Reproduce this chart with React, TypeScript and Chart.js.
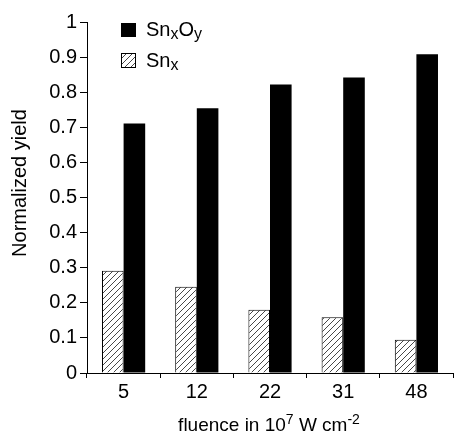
import { useEffect, useRef } from "react";
import { Chart, registerables } from "chart.js";

Chart.register(...registerables);

// Fluence categories (10^7 W cm^-2) and normalized yields
const fluence = ["5", "12", "22", "31", "48"];
const snxOyYield = [0.711, 0.754, 0.822, 0.842, 0.908];
const snxYield = [0.291, 0.246, 0.18, 0.159, 0.095];
const yTickValues = [0, 0.1, 0.2, 0.3, 0.4, 0.5, 0.6, 0.7, 0.8, 0.9, 1];

const FONT = "Arial, 'Liberation Sans', Helvetica, sans-serif";

type Seg = { t: string; sub?: boolean; sup?: boolean };

function makeHatch(): CanvasPattern | string {
  const s = 6;
  const c = document.createElement("canvas");
  c.width = s;
  c.height = s;
  const g = c.getContext("2d");
  if (!g) return "#fff";
  g.fillStyle = "#fff";
  g.fillRect(0, 0, s, s);
  g.strokeStyle = "#333";
  g.lineWidth = 0.9;
  g.beginPath();
  g.moveTo(0, s);
  g.lineTo(s, 0);
  g.moveTo(-1, 1);
  g.lineTo(1, -1);
  g.moveTo(s - 1, s + 1);
  g.lineTo(s + 1, s - 1);
  g.stroke();
  return g.createPattern(c, "repeat") || "#fff";
}

function segFont(seg: Seg, size: number, small: number) {
  return `${seg.sub || seg.sup ? small : size}px ${FONT}`;
}

function measureSegs(ctx: CanvasRenderingContext2D, segs: Seg[], size: number, small: number) {
  let w = 0;
  for (const s of segs) {
    ctx.font = segFont(s, size, small);
    w += ctx.measureText(s.t).width;
  }
  return w;
}

function drawSegs(
  ctx: CanvasRenderingContext2D,
  segs: Seg[],
  x: number,
  y: number,
  size: number,
  small: number,
  align: "left" | "center" = "left"
) {
  let cx = align === "center" ? x - measureSegs(ctx, segs, size, small) / 2 : x;
  ctx.textAlign = "left";
  ctx.textBaseline = "alphabetic";
  for (const s of segs) {
    ctx.font = segFont(s, size, small);
    const dy = s.sub ? 3 : s.sup ? -7 : 0;
    ctx.fillText(s.t, cx, y + dy);
    cx += ctx.measureText(s.t).width;
  }
}

export default function App() {
  const canvasRef = useRef<HTMLCanvasElement | null>(null);

  useEffect(() => {
    document.body.style.margin = "0";
    const canvas = canvasRef.current;
    if (!canvas) return;
    const hatch = makeHatch();

    const annotations = {
      id: "annotations",
      afterDraw(chart: Chart) {
        const ctx = chart.ctx;
        ctx.save();
        ctx.fillStyle = "#000";

        // legend
        ctx.fillRect(121, 23, 15, 14);
        drawSegs(ctx, [{ t: "Sn" }, { t: "x", sub: true }, { t: "O" }, { t: "y", sub: true }], 146, 36, 20, 16);
        ctx.fillStyle = hatch as any;
        ctx.fillRect(121.5, 53.5, 14, 14);
        ctx.strokeStyle = "#000";
        ctx.lineWidth = 1;
        ctx.strokeRect(121.5, 53.5, 14, 14);
        ctx.fillStyle = "#000";
        drawSegs(ctx, [{ t: "Sn" }, { t: "x", sub: true }], 146, 67, 20, 16);

        // x-axis title
        const area = chart.chartArea;
        drawSegs(
          ctx,
          [{ t: "fluence in 10" }, { t: "7", sup: true }, { t: " W cm" }, { t: "-2", sup: true }],
          (area.left + area.right) / 2 - 1,
          431,
          19,
          14,
          "center"
        );

        // y-axis title
        ctx.translate(26, 183);
        ctx.rotate(-Math.PI / 2);
        ctx.font = `20px ${FONT}`;
        ctx.textAlign = "center";
        ctx.textBaseline = "alphabetic";
        ctx.fillText("Normalized yield", 0, 0);
        ctx.restore();
      },
    };

    const chart = new Chart(canvas, {
      type: "bar",
      data: {
        labels: fluence,
        datasets: [
          {
            label: "Snx",
            data: snxYield,
            backgroundColor: hatch as any,
            borderColor: "#000",
            borderWidth: 1,
            borderSkipped: "bottom",
          },
          {
            label: "SnxOy",
            data: snxOyYield,
            backgroundColor: "#000",
            borderWidth: 0,
          },
        ],
      },
      options: {
        responsive: false,
        animation: false,
        events: [],
        layout: { padding: { top: 22, right: 2, left: 0, bottom: 0 } },
        plugins: {
          legend: { display: false },
          tooltip: { enabled: false },
          title: { display: false },
        },
        datasets: {
          bar: { categoryPercentage: 0.59, barPercentage: 1 },
        },
        scales: {
          x: {
            grid: {
              display: true,
              drawOnChartArea: false,
              tickLength: 5,
              color: "#000",
              offset: true,
            },
            border: { display: true, color: "#000", width: 1 },
            ticks: { color: "#000", font: { family: FONT, size: 20 }, padding: 2, maxRotation: 0 },
            afterFit(scale: any) {
              scale.height = 61;
            },
          },
          y: {
            min: 0,
            max: 1,
            afterBuildTicks(scale: any) {
              scale.ticks = yTickValues.map((v) => ({ value: v }));
            },
            grid: {
              display: true,
              drawOnChartArea: false,
              tickLength: 7,
              color: "#000",
            },
            border: { display: true, color: "#000", width: 1 },
            ticks: {
              color: "#000",
              font: { family: FONT, size: 20 },
              padding: 3,
              callback: (v: any) => String(Math.round(Number(v) * 10) / 10),
            },
            afterFit(scale: any) {
              scale.width = 87;
            },
          },
        },
      },
      plugins: [annotations],
    });

    return () => chart.destroy();
  }, []);

  return (
    <div style={{ width: 455, height: 434, background: "#fff" }}>
      <canvas ref={canvasRef} width={455} height={434} />
    </div>
  );
}
